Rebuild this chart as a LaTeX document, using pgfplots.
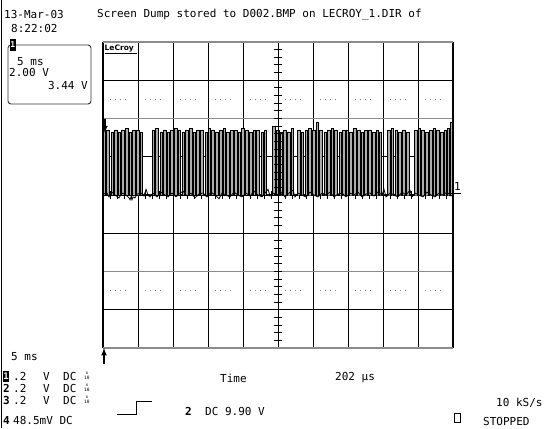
\documentclass[border=0pt]{standalone}
\usepackage{fontspec}
\setmainfont{DejaVu Sans Mono}
\newfontfamily\lcf{DejaVu Sans}
\usepackage{pgfplots}
\pgfplotsset{compat=1.18}

\tikzset{
  t/.style={anchor=west, inner sep=0pt, font=\fontsize{11}{13}\selectfont},
  tb/.style={t, font=\fontsize{11}{13}\selectfont\bfseries},
  tiny10/.style={anchor=west, inner sep=0pt, align=center, font=\fontsize{4.5}{4.5}\selectfont},
}

\begin{document}
\begin{tikzpicture}
\useasboundingbox (0,0) rectangle (553pt,428pt);

\begin{axis}[
  at={(103pt,80pt)}, anchor=south west,
  scale only axis, width=350pt, height=306pt,
  xmin=0, xmax=350, ymin=-8, ymax=8,
  axis line style={draw=none},
  ticks=none, clip=false,
]
% grid
\pgfplotsinvokeforeach{35,70,...,315}{
  \draw[black, line width=1pt] (axis cs:#1,-8) -- (axis cs:#1,8);
}
\pgfplotsinvokeforeach{-6,-2,0,2,6}{
  \draw[black, line width=1pt] (axis cs:0,#1) -- (axis cs:350,#1);
}
\draw[gray!90, line width=1.3pt] (axis cs:0,4) -- (axis cs:350,4);
\draw[gray!90, line width=1.3pt] (axis cs:0,-4) -- (axis cs:350,-4);
\pgfplotsinvokeforeach{7,42,...,322}{
  \draw[gray, line width=1pt, dash pattern=on 1pt off 4pt] (axis cs:#1,5) -- ([xshift=16pt]axis cs:#1,5);
  \draw[gray, line width=1pt, dash pattern=on 1pt off 4pt] (axis cs:#1,-5) -- ([xshift=16pt]axis cs:#1,-5);
}
\pgfplotsinvokeforeach{7,14,...,343}{
  \draw[black, line width=1pt] (axis cs:#1,-0.21) -- (axis cs:#1,0.21);
}

% channel 1 trace, 2 V/div
\addplot[const plot, fill=gray!65, draw=black, line width=0.35pt] coordinates {
(0,3.5)(2.5,0)(3.5,3.4)(6.5,0)(8,3.3)(10,0)(11,3.4)(14,0)(15.5,3.3)(17.5,0)(18.5,3.4)(21.5,0)
(22.5,3.5)(25,0)(26.5,3.3)(28.5,0)(29.5,3.4)(32.5,0)(33.5,3.4)(36,0)(37,3.3)(39.5,0)
(49,3.4)(51.5,0)(52.5,3.5)(55.5,0)(57,3.3)(59,0)(60,3.4)(63,0)(64,3.3)(66,0)(67.5,3.4)(70.5,0)
(71.5,3.5)(74,0)(75,3.4)(77.5,0)(79,3.3)(81.5,0)(82.5,3.4)(85,0)(86,3.5)(89,0)(90,3.3)(92,0)
(93.5,3.4)(96.5,0)(97.5,3.4)(100,0)(102,3.3)(104,0)(105,3.5)(107.5,0)(108.5,3.4)(111.5,0)
(112.5,3.3)(115,0)(116.5,3.4)(119,0)(120,3.5)(122.5,0)(123.5,3.3)(126.5,0)(127.5,3.4)(130,0)
(131.5,3.4)(134,0)(135,3.3)(137.5,0)(138.5,3.5)(141.5,0)(142.5,3.4)(145,0)(146.5,3.3)(149,0)
(150,3.4)(152.5,0)(153.5,3.4)(156.5,0)(158,3.3)(160,0)(161,3.4)(163.5,0)
(169.5,3.6)(172,0)(173,3.4)(176,0)(177.5,3.3)(179.5,0)(180.5,3.4)(183.5,0)(184.5,3.3)(187,0)(188,3.5)(190,0)
(194,3.4)(197,0)(198,3.3)(200.5,0)(202,3.4)(204.5,0)(205.5,3.5)(208,0)(209,3.4)(212,0)(213,3.8)(215.5,0)
(216.5,3.4)(219.5,0)(221,3.3)(223,0)(224,3.4)(227,0)(228,3.5)(230.5,0)(231.5,3.4)(234.5,0)
(236,3.3)(238,0)(239,3.4)(242,0)(243,3.4)(245.5,0)(246.5,3.3)(249.5,0)(250.5,3.5)(253,0)
(254.5,3.4)(257,0)(258,3.3)(260.5,0)(261.5,3.4)(264.5,0)(265.5,3.4)(268,0)(269.5,3.3)(272,0)
(273,3.4)(275.5,0)(276.5,3.3)(278.5,0)
(284,3.4)(287,0)(288,3.5)(290.5,0)(292,3.4)(294.5,0)(295.5,3.3)(298,0)(299,3.4)(302,0)(303,3.3)(306.5,0)
(311.5,3.4)(314,0)(315,3.5)(317.5,0)(318.5,3.4)(321.5,0)(322.5,3.3)(325,0)(326,3.4)(329,0)
(330,3.5)(332.5,0)(333.5,3.4)(336.5,0)(337.5,3.3)(340,0)(341,3.4)(343.5,0)(344.5,3.5)(346.5,0)
(347.5,3.8)(349.5,0)(350,0)
} \closedcycle;

% baseline noise
\addplot[black, line width=0.8pt] coordinates {
(0,0.05)(4,0.1)(6,-0.1)(9,0.15)(12,0)(16,-0.15)(19,0.1)(23,0)(26,-0.15)(27,-0.25)(28,-0.1)(29,-0.25)(30,-0.1)(32,-0.15)
(34,0.05)(38,0.1)(41,-0.05)(43,0.3)(45,0)(47,-0.1)(50,0.1)(54,-0.1)(58,0.15)(62,0)(65,-0.1)
(69,0.1)(73,-0.1)(76,0.05)(80,0.2)(84,-0.05)(88,0.1)(92,-0.15)(96,0.05)(100,0.1)(104,-0.1)
(108,0.15)(112,0)(116,-0.2)(119,0.1)(123,0)(127,-0.1)(131,0.15)(135,0)(139,-0.1)(143,0.1)
(147,-0.05)(151,0.2)(155,0)(159,-0.1)(162,0.1)(165,0.3)(167,-0.05)(170,0.1)(174,0)(178,0.15)
(182,-0.1)(186,0.1)(190,0.25)(192,-0.1)(195,0.1)(199,0)(203,-0.1)(207,0.15)(211,0)(215,-0.1)
(219,0.1)(223,0)(227,0.15)(231,-0.1)(235,0.05)(239,0.1)(243,-0.1)(247,0.1)(251,0)(255,0.15)
(259,-0.1)(263,0.05)(267,0.1)(271,-0.05)(275,0.15)(279,0)(281,0.3)(283,-0.1)(287,0.1)(291,0)
(295,-0.1)(299,0.15)(303,0)(307,0.25)(309,-0.1)(312,0.1)(316,0)(320,-0.1)(324,0.15)(328,0)
(332,-0.1)(336,0.1)(340,0)(344,0.15)(348,-0.05)(350,0)
};

% centre vertical with minor ticks
\draw[black, line width=1pt] (axis cs:175,-8) -- (axis cs:175,8);
\pgfplotsinvokeforeach{-7.6,-7.2,...,7.6}{
  \draw[black, line width=1pt] (axis cs:171,#1) -- (axis cs:179,#1);
}
% frame
\draw[black, line width=1.2pt] (rel axis cs:0,0) -- (rel axis cs:0,1);
\draw[black, line width=1.2pt] (rel axis cs:1,0) -- (rel axis cs:1,1);
\draw[gray!90, line width=1.5pt] (rel axis cs:0,1) -- (rel axis cs:1,1);
\draw[gray!90, line width=1.5pt] (rel axis cs:0,0) -- (rel axis cs:1,0);
\end{axis}

% markers
\draw[black, line width=1.5pt, -latex] (104pt,64pt) -- (104pt,80pt);
\draw[black, line width=1.4pt, -latex] (105pt,309pt) -- (105pt,295pt);
\node[t] at (454pt,242pt) {1};
\draw[black, line width=1pt] (450pt,234pt) -- (461pt,234pt);

% left rule
\draw[black, line width=1pt] (1.5pt,0pt) -- (1.5pt,428pt);

% header
\node[t] at (4pt,413pt) {13-Mar-03};
\node[t] at (11pt,399pt) {8:22:02};
\node[t] at (97pt,413pt) {Screen Dump stored to D002.BMP on LECROY\_1.DIR of};

% channel box
\draw[black!80, line width=0.9pt, rounded corners=3pt] (8pt,324pt) rectangle (91pt,383pt);
\fill[black] (9.5pt,377pt) rectangle (16pt,389pt);
\node[inner sep=0pt, text=white, font=\fontsize{8}{8}\selectfont\bfseries] at (12.8pt,383pt) {1};
\node[t] at (17pt,366pt) {5 ms};
\node[t] at (9pt,355pt) {2.00 V};
\node[t, anchor=east] at (88pt,342pt) {3.44 V};

% logo
\node[anchor=west, inner sep=0pt, font=\lcf\fontsize{7.5}{8}\selectfont\bfseries] at (104.5pt,379.5pt) {LeCroy};
\draw[black, line width=1pt] (104.5pt,374.5pt) -- (137pt,374.5pt);

% bottom panel
\node[t] at (11pt,71pt) {5 ms};
\fill[black] (3pt,46.5pt) rectangle (9pt,57.5pt);
\node[inner sep=0pt, text=white, font=\fontsize{9}{9}\selectfont\bfseries] at (6pt,52pt) {1};
\node[t] at (13pt,52pt) {.2};
\node[t] at (43pt,52pt) {V};
\node[t] at (63pt,52pt) {DC};
\node[tiny10] at (84pt,52pt) {x\\10};
\node[tb] at (3pt,40pt) {2};
\node[t] at (13pt,40pt) {.2};
\node[t] at (43pt,40pt) {V};
\node[t] at (63pt,40pt) {DC};
\node[tiny10] at (84pt,40pt) {x\\10};
\node[tb] at (3pt,28pt) {3};
\node[t] at (13pt,28pt) {.2};
\node[t] at (43pt,28pt) {V};
\node[t] at (63pt,28pt) {DC};
\node[tiny10] at (84pt,28pt) {x\\10};
\node[tb] at (3pt,8pt) {4};
\node[t] at (13pt,8pt) {48.5mV DC};

\draw[black, line width=1pt] (117pt,14pt) -- (136pt,14pt) -- (136pt,27pt) -- (152pt,27pt);
\node[tb] at (185pt,17pt) {2};
\node[t] at (205pt,17pt) {DC 9.90 V};
\node[t] at (220pt,50pt) {Time};
\node[t] at (335pt,50pt) {202 µs};
\node[t] at (496pt,25pt) {10 kS/s};
\draw[black, line width=0.8pt] (454.5pt,5.5pt) rectangle (460.5pt,14.5pt);
\node[t] at (483pt,7pt) {STOPPED};
\end{tikzpicture}
\end{document}
